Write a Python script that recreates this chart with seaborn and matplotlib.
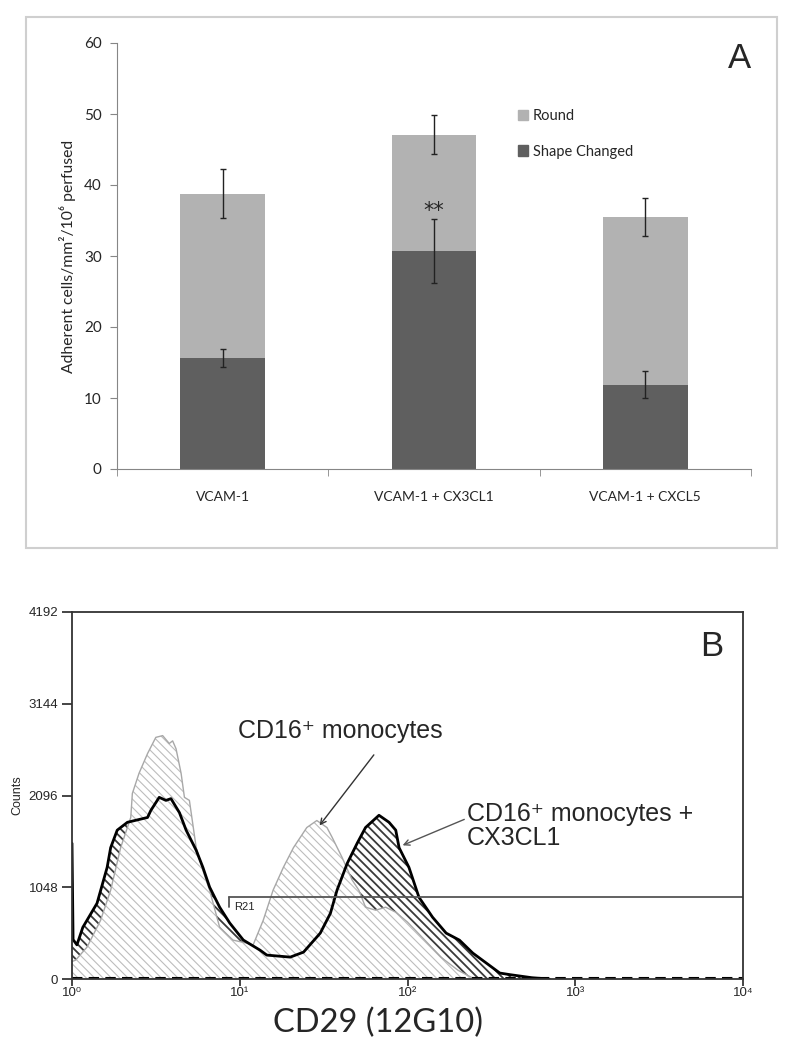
import matplotlib.pyplot as plt
from matplotlib.patches import Patch, Rectangle
import seaborn as sns

sns.set_style('ticks')
plt.rcParams['font.family'] = ['Lato', 'DejaVu Sans']

# --- Panel A: adherent cells per condition ---
conditions = ['VCAM-1', 'VCAM-1 + CX3CL1', 'VCAM-1 + CXCL5']
total_adherent = [38.8, 47.1, 35.5]   # Round + Shape Changed (bar top)
total_err = [3.5, 2.7, 2.7]
shape_changed = [15.6, 30.7, 11.9]
shape_err = [1.25, 4.5, 1.85]
y_ticks_a = [0, 10, 20, 30, 40, 50, 60]

# --- Panel B: CD29 (12G10) histograms ---
light_x = [1.0, 1.05, 1.23, 1.48, 1.70, 1.95, 2.24, 2.29, 2.51, 2.82, 3.16,
           3.47, 3.80, 3.98, 4.17, 4.47, 4.68, 5.01, 5.50, 6.03, 6.61, 7.59,
           9.12, 11.0, 12.0, 13.8, 15.8, 18.2, 20.9, 25.1, 28.8, 33.1, 35.5,
           40.7, 46.8, 51.3, 56.2, 64.6, 74.1, 85.1, 100, 126, 158, 200, 251]
light_counts = [200, 215, 365, 670, 1014, 1500, 1845, 2120, 2350, 2575, 2760,
                2780, 2690, 2720, 2630, 2350, 2075, 2040, 1500, 1240, 1014, 590,
                444, 410, 387, 670, 1014, 1275, 1500, 1730, 1810, 1730, 1620,
                1390, 1130, 1014, 820, 786, 820, 763, 650, 450, 250, 100, 0]

dark_x = [1.0, 1.015, 1.07, 1.16, 1.41, 1.62, 1.70, 1.86, 2.14, 2.82, 2.95,
          3.31, 3.63, 3.89, 4.37, 4.79, 5.50, 6.03, 6.61, 7.59, 8.71, 10.5,
          13.2, 14.5, 20.0, 24.0, 30.2, 34.7, 38.0, 43.7, 50.1, 56.2, 67.6,
          77.6, 85.1, 89.1, 102, 117, 141, 170, 204, 245, 295, 355, 407, 550, 700]
dark_counts = [1550, 450, 390, 590, 865, 1275, 1500, 1700, 1790, 1845, 1925,
               2075, 2040, 2060, 1900, 1700, 1470, 1275, 1050, 820, 640, 445,
               330, 273, 250, 307, 524, 750, 1014, 1320, 1550, 1730, 1870,
               1790, 1700, 1500, 1275, 934, 706, 524, 444, 296, 182, 68, 50, 15, 0]

y_ticks_b = [0, 1048, 2096, 3144, 4192]
x_ticks_b = [1, 10, 100, 1000, 10000]
x_ticklabels_b = ['10⁰', '10¹', '10²', '10³', '10⁴']
gate_start, gate_level = 8.6, 934

light_gray = '#b2b2b2'
dark_gray = '#5f5f5f'

fig = plt.figure(figsize=(7.93, 10.5), dpi=100)

# frame around panel A
fig.patches.append(Rectangle((26 / 793, 1 - 548 / 1050), 751 / 793, 531 / 1050,
                             transform=fig.transFigure, fill=False,
                             edgecolor='#cfcfcf', linewidth=1.5))

ax = fig.add_axes([117 / 793, 1 - 469 / 1050, 634 / 793, 426 / 1050])
sns.barplot(x=conditions, y=total_adherent, color=light_gray, width=0.4,
            saturation=1, linewidth=0, ax=ax)
sns.barplot(x=conditions, y=shape_changed, color=dark_gray, width=0.4,
            saturation=1, linewidth=0, ax=ax)
ax.errorbar(range(3), total_adherent, yerr=total_err, fmt='none',
            ecolor='#222222', elinewidth=1, capsize=2.2, capthick=1)
ax.errorbar(range(3), shape_changed, yerr=shape_err, fmt='none',
            ecolor='#222222', elinewidth=1, capsize=2.2, capthick=1)
ax.text(1, 36.3, '**', ha='center', va='center', fontsize=15,
        family=['DejaVu Sans'])

ax.set_xlim(-0.5, 2.5)
ax.set_ylim(0, 60)
ax.set_yticks(y_ticks_a)
ax.set_xticks([-0.5, 0.5, 1.5, 2.5], minor=True)
ax.tick_params(axis='x', which='major', length=0, pad=16, labelsize=10)
ax.tick_params(axis='x', which='minor', length=5, color='#868686')
ax.tick_params(axis='y', length=5, color='#868686', pad=6, labelsize=11)
for s in ['top', 'right']:
    ax.spines[s].set_visible(False)
for s in ['left', 'bottom']:
    ax.spines[s].set_color('#868686')
ax.set_ylabel('Adherent cells/mm²/10⁶ perfused', fontsize=11.3, labelpad=6)
ax.set_xlabel('')

ax.legend(handles=[Patch(color=light_gray), Patch(color=dark_gray)],
          labels=['Round', 'Shape Changed'], loc='upper left',
          bbox_to_anchor=(0.612, 0.875), frameon=False, fontsize=10.5,
          handlelength=0.7, handleheight=0.7, handletextpad=0.3,
          labelspacing=1.45)
fig.text(740 / 793, 1 - 58 / 1050, 'A', ha='center', va='center',
         fontsize=25, family=['Liberation Sans'])

# --- Panel B ---
axb = fig.add_axes([72 / 793, 1 - 979 / 1050, 671 / 793, 367 / 1050])
axb.set_xscale('log')

plt.rcParams['hatch.linewidth'] = 1.3
dark_fill = axb.fill_between(dark_x, dark_counts, 0, facecolor='white',
                             edgecolor='#3a3a3a', hatch='\\\\\\\\', linewidth=0)
plt.rcParams['hatch.linewidth'] = 0.8
light_fill = axb.fill_between(light_x, light_counts, 0, facecolor='white',
                              edgecolor='#bdbdbd', hatch='\\\\\\\\', linewidth=0)
if hasattr(dark_fill, 'set_hatch_linewidth'):
    dark_fill.set_hatch_linewidth(1.3)
    light_fill.set_hatch_linewidth(0.8)

sns.lineplot(x=light_x, y=light_counts, color='#a8a8a8', linewidth=1,
             estimator=None, ax=axb)
sns.lineplot(x=dark_x, y=dark_counts, color='black', linewidth=2,
             estimator=None, ax=axb)

# baseline and gate R21
axb.axhline(12, color='black', linewidth=1.5, dashes=(5, 3))
axb.plot([gate_start, 10000], [gate_level, gate_level], color='#555555',
         linewidth=1.3)
axb.plot([gate_start, gate_start], [gate_level, gate_level - 110],
         color='#555555', linewidth=1.3)
axb.text(gate_start * 1.08, gate_level - 50, 'R21', ha='left', va='top',
         fontsize=8, family=['Liberation Sans'])

axb.annotate('', xy=(29.9, 1754), xytext=(63, 2560), textcoords='data',
             arrowprops=dict(arrowstyle='->', color='#333333', lw=1,
                             shrinkA=0, shrinkB=0))
axb.text(9.7, 2836, 'CD16⁺ monocytes', fontsize=18, ha='left', va='center',
         family=['Liberation Sans', 'DejaVu Sans'])
axb.annotate('', xy=(93.5, 1527), xytext=(218, 1823), textcoords='data',
             arrowprops=dict(arrowstyle='->', color='#555555', lw=1,
                             shrinkA=0, shrinkB=0))
axb.text(227, 1750, 'CD16⁺ monocytes +\nCX3CL1', fontsize=18, ha='left',
         va='center', linespacing=1.0,
         family=['Liberation Sans', 'DejaVu Sans'])
axb.text(0.954, 0.905, 'B', transform=axb.transAxes, ha='center',
         va='center', fontsize=25, family=['Liberation Sans'])

axb.set_xlim(1, 10000)
axb.set_ylim(0, 4192)
axb.set_yticks(y_ticks_b)
axb.set_xticks(x_ticks_b)
axb.set_xticklabels(x_ticklabels_b, family=['Liberation Sans', 'DejaVu Sans'])
axb.minorticks_off()
axb.tick_params(axis='y', length=7, width=1.2, pad=3, labelsize=9.5)
axb.tick_params(axis='x', length=5, width=1.2, pad=1, labelsize=9.5)
for lab in axb.get_yticklabels():
    lab.set_family(['Liberation Sans'])
for s in axb.spines.values():
    s.set_color('#333333')
    s.set_linewidth(1.3)
axb.set_ylabel('Counts', fontsize=9, family=['Liberation Sans'], labelpad=4)
fig.text(378 / 793, 1 - 1023 / 1050, 'CD29 (12G10)', ha='center',
         va='center', fontsize=23.5)

fig.savefig('out.png', dpi=100)
